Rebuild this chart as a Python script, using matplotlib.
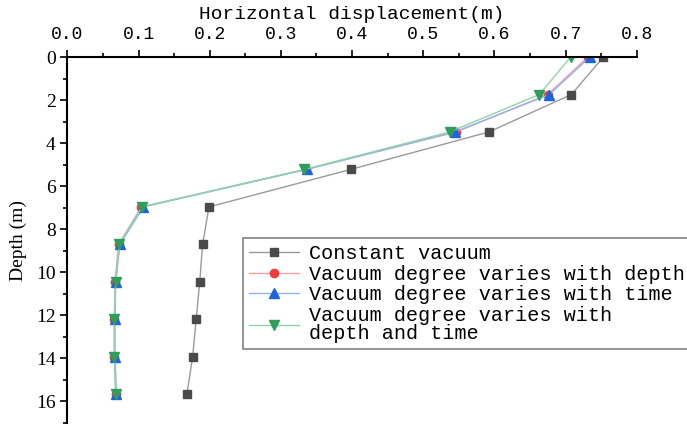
import matplotlib
matplotlib.use('Agg')
import matplotlib.pyplot as plt
from matplotlib.ticker import MultipleLocator

depth = [0, 1.74, 3.48, 5.22, 6.96, 8.7, 10.44, 12.18, 13.92, 15.66]

constant = [0.753, 0.708, 0.592, 0.398, 0.199, 0.190, 0.186, 0.181, 0.176, 0.168]
vary_depth = [0.731, 0.675, 0.546, 0.335, 0.104, 0.072, 0.067, 0.066, 0.066, 0.068]
vary_time = [0.734, 0.677, 0.544, 0.336, 0.107, 0.074, 0.068, 0.067, 0.067, 0.069]
vary_both = [0.707, 0.663, 0.537, 0.333, 0.105, 0.073, 0.068, 0.066, 0.066, 0.068]

labels = ['Constant vacuum',
          'Vacuum degree varies with depth',
          'Vacuum degree varies with time',
          'Vacuum degree varies with\ndepth and time']

mono = 'Liberation Mono'
serif = 'Liberation Serif'

fig = plt.figure(figsize=(6.87, 4.26), dpi=100)
ax = fig.add_axes([0.098, 0.007, 0.829, 0.859])

ax.plot(constant, depth, color='#9a9a9a', lw=1, marker='s', ms=6,
        mfc='#4a4a4a', mec='#4a4a4a', label=labels[0])
ax.plot(vary_depth, depth, color='#f4a0a0', lw=1, marker='o', ms=6,
        mfc='#f03c3c', mec='#f03c3c', label=labels[1])
ax.plot(vary_time, depth, color='#8fb4ee', lw=1, marker='^', ms=7,
        mfc='#1e64dc', mec='#1e64dc', label=labels[2])
ax.plot(vary_both, depth, color='#8fd4a8', lw=1, marker='v', ms=7,
        mfc='#2e9e5a', mec='#2e9e5a', label=labels[3])

ax.set_xlim(0, 0.8)
ax.set_ylim(17, 0)

ax.xaxis.set_ticks_position('top')
ax.xaxis.set_label_position('top')
ax.spines['right'].set_visible(False)
ax.spines['bottom'].set_visible(False)
ax.spines['top'].set_linewidth(1.5)
ax.spines['left'].set_linewidth(1.5)

ax.xaxis.set_major_locator(MultipleLocator(0.1))
ax.xaxis.set_minor_locator(MultipleLocator(0.05))
ax.yaxis.set_major_locator(MultipleLocator(2))
ax.yaxis.set_minor_locator(MultipleLocator(1))
ax.tick_params(which='major', direction='out', length=5, width=1.2)
ax.tick_params(which='minor', direction='out', length=3, width=1.2)
ax.tick_params(axis='x', pad=5)

ax.set_xticks([i / 10 for i in range(9)])
ax.set_xticklabels(['%.1f' % (i / 10) for i in range(9)], fontfamily=mono, fontsize=13)
for t in ax.get_yticklabels():
    t.set_fontfamily(serif)
    t.set_fontsize(14)

ax.set_xlabel('Horizontal displacement(m)', fontfamily=mono, fontsize=14, labelpad=5)
ax.set_ylabel('Depth (m)', fontfamily=serif, fontsize=14, labelpad=6)

leg = ax.legend(loc='upper left', bbox_to_anchor=(243 / 687, 1 - 238 / 426),
                bbox_transform=fig.transFigure, prop={'family': mono, 'size': 14.5},
                handlelength=2.5, labelspacing=0.08, borderpad=0.3, handletextpad=0.5,
                borderaxespad=0, fancybox=False, framealpha=1)
leg.get_frame().set_edgecolor('#808080')
leg.get_frame().set_linewidth(1.2)
for t in leg.get_texts():
    t.set_linespacing(0.95)

plt.savefig('out.png', dpi=100)
